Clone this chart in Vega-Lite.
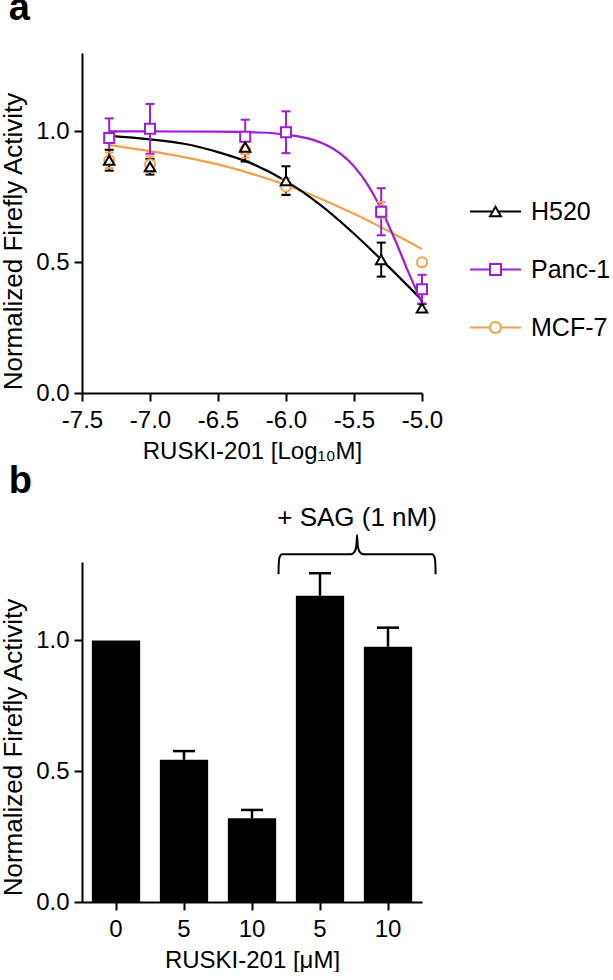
{
  "$schema": "https://vega.github.io/schema/vega-lite/v6.json",
  "background": "white",
  "padding": {"left": 0, "top": -10, "right": 0, "bottom": 0},
  "spacing": 0,
  "config": {
    "font": "Liberation Sans",
    "view": {"stroke": null},
    "axis": {"domainColor": "black", "domainWidth": 2, "tickColor": "black", "tickWidth": 2, "tickSize": 8, "labelFont": "Liberation Sans", "labelFontSize": 24, "labelColor": "black", "titleFont": "Liberation Sans", "titleFontSize": 24, "titleFontWeight": "normal", "titleColor": "black", "grid": false, "labelFlush": false, "labelOverlap": false},
    "axisX": {"labelPadding": 7, "titlePadding": 7},
    "axisY": {"labelPadding": 5, "titlePadding": 9, "titleFontSize": 26}
  },
  "datasets": {
    "fit": [
      {"series": "MCF-7", "logM": -7.3, "y": 0.948}, {"series": "MCF-7", "logM": -7.0, "y": 0.925}, {"series": "MCF-7", "logM": -6.75, "y": 0.902}, {"series": "MCF-7", "logM": -6.5, "y": 0.874}, {"series": "MCF-7", "logM": -6.25, "y": 0.838}, {"series": "MCF-7", "logM": -6.0, "y": 0.795}, {"series": "MCF-7", "logM": -5.75, "y": 0.744}, {"series": "MCF-7", "logM": -5.5, "y": 0.685}, {"series": "MCF-7", "logM": -5.25, "y": 0.62}, {"series": "MCF-7", "logM": -5.0, "y": 0.55},
      {"series": "H520", "logM": -7.3, "y": 0.983}, {"series": "H520", "logM": -7.0, "y": 0.970}, {"series": "H520", "logM": -6.75, "y": 0.953}, {"series": "H520", "logM": -6.5, "y": 0.921}, {"series": "H520", "logM": -6.25, "y": 0.877}, {"series": "H520", "logM": -6.0, "y": 0.810}, {"series": "H520", "logM": -5.75, "y": 0.720}, {"series": "H520", "logM": -5.5, "y": 0.609}, {"series": "H520", "logM": -5.25, "y": 0.485}, {"series": "H520", "logM": -5.0, "y": 0.355},
      {"series": "Panc-1", "logM": -7.3, "y": 1.0}, {"series": "Panc-1", "logM": -7.0, "y": 1.0}, {"series": "Panc-1", "logM": -6.5, "y": 0.999}, {"series": "Panc-1", "logM": -6.2, "y": 0.996}, {"series": "Panc-1", "logM": -6.0, "y": 0.988}, {"series": "Panc-1", "logM": -5.9, "y": 0.980}, {"series": "Panc-1", "logM": -5.8, "y": 0.968}, {"series": "Panc-1", "logM": -5.7, "y": 0.947}, {"series": "Panc-1", "logM": -5.6, "y": 0.915}, {"series": "Panc-1", "logM": -5.5, "y": 0.867}, {"series": "Panc-1", "logM": -5.4, "y": 0.797}, {"series": "Panc-1", "logM": -5.3, "y": 0.703}, {"series": "Panc-1", "logM": -5.2, "y": 0.588}, {"series": "Panc-1", "logM": -5.1, "y": 0.462}, {"series": "Panc-1", "logM": -5.0, "y": 0.345}
    ],
    "pts": [
      {"series": "MCF-7", "logM": -7.3, "y": 0.89, "lo": 0.86, "hi": 0.92},
      {"series": "MCF-7", "logM": -7.0, "y": 0.875, "lo": 0.845, "hi": 0.905},
      {"series": "MCF-7", "logM": -6.3, "y": 0.93, "lo": 0.90, "hi": 0.96},
      {"series": "MCF-7", "logM": -6.0, "y": 0.79, "lo": 0.76, "hi": 0.82},
      {"series": "MCF-7", "logM": -5.3, "y": 0.70, "lo": 0.67, "hi": 0.73},
      {"series": "MCF-7", "logM": -5.0, "y": 0.50, "lo": 0.50, "hi": 0.50},
      {"series": "Panc-1", "logM": -7.3, "y": 0.975, "lo": 0.90, "hi": 1.05},
      {"series": "Panc-1", "logM": -7.0, "y": 1.01, "lo": 0.915, "hi": 1.105},
      {"series": "Panc-1", "logM": -6.3, "y": 0.98, "lo": 0.915, "hi": 1.045},
      {"series": "Panc-1", "logM": -6.0, "y": 0.997, "lo": 0.917, "hi": 1.077},
      {"series": "Panc-1", "logM": -5.3, "y": 0.693, "lo": 0.603, "hi": 0.783},
      {"series": "Panc-1", "logM": -5.0, "y": 0.397, "lo": 0.342, "hi": 0.452},
      {"series": "H520", "logM": -7.3, "y": 0.89, "lo": 0.85, "hi": 0.93},
      {"series": "H520", "logM": -7.0, "y": 0.865, "lo": 0.835, "hi": 0.895},
      {"series": "H520", "logM": -6.3, "y": 0.94, "lo": 0.885, "hi": 0.995},
      {"series": "H520", "logM": -6.0, "y": 0.812, "lo": 0.757, "hi": 0.867},
      {"series": "H520", "logM": -5.3, "y": 0.51, "lo": 0.445, "hi": 0.575},
      {"series": "H520", "logM": -5.0, "y": 0.325, "lo": 0.31, "hi": 0.34}
    ],
    "bars": [
      {"grp": "0", "val": 1.0, "hi": 1.0},
      {"grp": "5", "val": 0.544, "hi": 0.577},
      {"grp": "10", "val": 0.32, "hi": 0.352},
      {"grp": "5 SAG", "val": 1.171, "hi": 1.257},
      {"grp": "10 SAG", "val": 0.976, "hi": 1.049}
    ],
    "brace": [
      {"i": 0, "bx": 2.89, "by": 1.253}, {"i": 1, "bx": 2.893, "by": 1.29}, {"i": 2, "bx": 2.905, "by": 1.318}, {"i": 3, "bx": 2.94, "by": 1.330},
      {"i": 4, "bx": 3.95, "by": 1.330}, {"i": 5, "bx": 4.01, "by": 1.34}, {"i": 6, "bx": 4.035, "by": 1.365}, {"i": 7, "bx": 4.045, "by": 1.402},
      {"i": 8, "bx": 4.055, "by": 1.365}, {"i": 9, "bx": 4.08, "by": 1.34}, {"i": 10, "bx": 4.14, "by": 1.330}, {"i": 11, "bx": 5.15, "by": 1.330},
      {"i": 12, "bx": 5.185, "by": 1.318}, {"i": 13, "bx": 5.197, "by": 1.29}, {"i": 14, "bx": 5.2, "by": 1.253}
    ],
    "note": [{"label": "+ SAG (1 nM)", "bx": 4.045, "by": 1.437}]
  },
  "vconcat": [
    {
      "width": 340, "height": 340,
      "title": {"text": "a", "anchor": "start", "frame": "bounds", "fontSize": 38, "fontWeight": "bold", "font": "Liberation Sans", "color": "black", "baseline": "alphabetic", "offset": -5, "dx": 8},
      "encoding": {
        "x": {"field": "logM", "type": "quantitative", "scale": {"domain": [-7.5, -5]}, "title": "RUSKI-201 [Log₁₀M]", "axis": {"values": [-7.5, -7, -6.5, -6, -5.5, -5], "format": ".1f", "labelExpr": "replace(datum.label, '−', '-')"}},
        "y": {"field": "y", "type": "quantitative", "scale": {"domain": [0, 1.3]}, "title": "Normalized Firefly Activity", "axis": {"values": [0, 0.5, 1], "format": ".1f", "titleY": 188}}
      },
      "layer": [
        {
          "data": {"name": "pts"},
          "transform": [{"filter": "datum.y > 5"}],
          "mark": {"type": "point", "filled": false, "opacity": 1, "strokeWidth": 0, "size": 121},
          "encoding": {
            "color": {"field": "series", "type": "nominal", "scale": {"domain": ["H520", "Panc-1", "MCF-7"], "range": ["#000000", "#9C1ED8", "#F5A04B"]},
              "legend": {"title": null, "orient": "none", "legendX": 401, "legendY": 146, "padding": 0, "labelFont": "Liberation Sans", "labelFontSize": 25, "labelColor": "black", "symbolSize": 121, "symbolStrokeWidth": 0, "labelOffset": 23, "rowPadding": 32}},
            "shape": {"field": "series", "type": "nominal", "scale": {"domain": ["H520", "Panc-1", "MCF-7"], "range": [
              "M0,-1.226L1.312,1.046H-1.312ZM0,-0.506L-0.688,0.686H0.688ZM-4.64,-0.18H-0.6V0.18H-4.64ZM0.6,-0.18H4.64V0.18H0.6Z",
              "M-1.18,-1.18H1.18V1.18H-1.18ZM-0.82,-0.82V0.82H0.82V-0.82ZM-4.64,-0.18H-1.18V0.18H-4.64ZM1.18,-0.18H4.64V0.18H1.18Z",
              "M1.18,0A1.18,1.18,0,1,1,-1.18,0A1.18,1.18,0,1,1,1.18,0ZM0.82,0A0.82,0.82,0,1,0,-0.82,0A0.82,0.82,0,1,0,0.82,0ZM-4.64,-0.18H-1.15V0.18H-4.64ZM1.15,-0.18H4.64V0.18H1.15Z"
            ]},
              "legend": {"title": null, "orient": "none", "legendX": 401, "legendY": 146, "padding": 0, "labelFont": "Liberation Sans", "labelFontSize": 25, "labelColor": "black", "symbolSize": 121, "symbolStrokeWidth": 0, "labelOffset": 23, "rowPadding": 32}}
          }
        },
        {
          "data": {"name": "fit"},
          "mark": {"type": "line", "strokeWidth": 2.2, "interpolate": "monotone"},
          "encoding": {
            "stroke": {"field": "series", "type": "nominal", "scale": {"domain": ["H520", "Panc-1", "MCF-7"], "range": ["#000000", "#9C1ED8", "#F5A04B"]}, "legend": null}
          }
        },
        {
          "data": {"name": "pts"},
          "mark": {"type": "rule", "strokeWidth": 2},
          "encoding": {
            "y": {"field": "lo", "type": "quantitative", "title": "Normalized Firefly Activity"},
            "y2": {"field": "hi"},
            "stroke": {"field": "series", "type": "nominal", "legend": null}
          }
        },
        {
          "data": {"name": "pts"},
          "mark": {"type": "tick", "orient": "horizontal", "size": 9, "thickness": 2, "opacity": 1},
          "encoding": {
            "y": {"field": "hi", "type": "quantitative", "title": "Normalized Firefly Activity"},
            "color": {"field": "series", "type": "nominal", "legend": null}
          }
        },
        {
          "data": {"name": "pts"},
          "mark": {"type": "tick", "orient": "horizontal", "size": 9, "thickness": 2, "opacity": 1},
          "encoding": {
            "y": {"field": "lo", "type": "quantitative", "title": "Normalized Firefly Activity"},
            "color": {"field": "series", "type": "nominal", "legend": null}
          }
        },
        {
          "data": {"name": "pts"},
          "transform": [{"filter": "datum.series == 'MCF-7'"}],
          "mark": {"type": "point", "shape": "circle", "filled": true, "fill": "white", "opacity": 1, "strokeWidth": 2, "size": 100},
          "encoding": {"stroke": {"field": "series", "type": "nominal", "legend": null}}
        },
        {
          "data": {"name": "pts"},
          "transform": [{"filter": "datum.series == 'Panc-1'"}],
          "mark": {"type": "point", "shape": "square", "filled": true, "fill": "white", "opacity": 1, "strokeWidth": 2, "size": 100},
          "encoding": {"stroke": {"field": "series", "type": "nominal", "legend": null}}
        },
        {
          "data": {"name": "pts"},
          "transform": [{"filter": "datum.series == 'H520'"}],
          "mark": {"type": "point", "shape": "triangle-up", "filled": true, "fill": "white", "opacity": 1, "strokeWidth": 2, "size": 110},
          "encoding": {"stroke": {"field": "series", "type": "nominal", "legend": null}}
        }
      ]
    },
    {
      "width": 340, "height": 340,
      "title": {"text": "b", "anchor": "start", "frame": "bounds", "fontSize": 38, "fontWeight": "bold", "font": "Liberation Sans", "color": "black", "baseline": "alphabetic", "offset": -26, "dx": 8},
      "resolve": {"scale": {"x": "independent"}},
      "layer": [
        {
          "data": {"name": "bars"},
          "encoding": {
            "x": {"field": "grp", "type": "nominal", "sort": null, "scale": {"domain": ["0", "5", "10", "5 SAG", "10 SAG"], "paddingInner": 0.29, "paddingOuter": 0.145}, "title": "RUSKI-201 [μM]", "axis": {"labelAngle": 0, "labelExpr": "replace(datum.label, ' SAG', '')"}}
          },
          "layer": [
            {
              "mark": {"type": "bar", "color": "black"},
              "encoding": {"y": {"field": "val", "type": "quantitative", "scale": {"domain": [0, 1.3]}, "title": "Normalized Firefly Activity", "axis": {"values": [0, 0.5, 1], "format": ".1f", "titleY": 185}}}
            },
            {
              "transform": [{"filter": "datum.hi > datum.val"}],
              "mark": {"type": "rule", "color": "black", "strokeWidth": 2.5},
              "encoding": {"y": {"field": "val", "type": "quantitative", "title": "Normalized Firefly Activity"}, "y2": {"field": "hi"}}
            },
            {
              "transform": [{"filter": "datum.hi > datum.val"}],
              "mark": {"type": "tick", "orient": "horizontal", "color": "black", "size": 22, "thickness": 2.5, "opacity": 1},
              "encoding": {"y": {"field": "hi", "type": "quantitative", "title": "Normalized Firefly Activity"}}
            }
          ]
        },
        {
          "layer": [
            {
              "data": {"name": "brace"},
              "mark": {"type": "line", "color": "black", "strokeWidth": 2, "interpolate": "monotone"},
              "encoding": {
                "x": {"field": "bx", "type": "quantitative", "scale": {"domain": [0, 5]}, "axis": null},
                "y": {"field": "by", "type": "quantitative", "scale": {"domain": [0, 1.3]}, "title": "Normalized Firefly Activity"},
                "order": {"field": "i"}
              }
            },
            {
              "data": {"name": "note"},
              "mark": {"type": "text", "font": "Liberation Sans", "fontSize": 26, "align": "center", "baseline": "alphabetic", "color": "black"},
              "encoding": {
                "x": {"field": "bx", "type": "quantitative", "scale": {"domain": [0, 5]}, "axis": null},
                "y": {"field": "by", "type": "quantitative", "scale": {"domain": [0, 1.3]}, "title": "Normalized Firefly Activity"},
                "text": {"field": "label"}
              }
            }
          ]
        }
      ]
    }
  ]
}
